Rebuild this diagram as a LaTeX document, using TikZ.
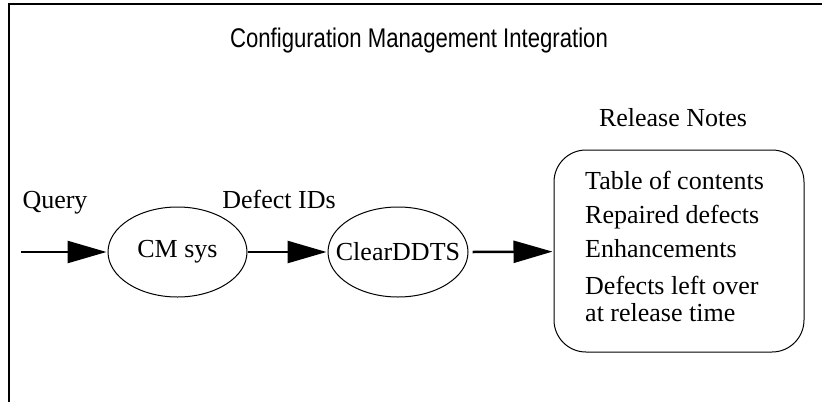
\documentclass[tikz,border=0pt]{standalone}
\usepackage{fontspec}
\setmainfont{Liberation Serif}
\newfontfamily\titlefont[FakeStretch=0.82]{Liberation Sans}
\usetikzlibrary{arrows.meta,shapes.geometric}

\tikzset{
  txt/.style={font=\fontsize{26}{31}\selectfont, inner sep=0pt},
  proc/.style={draw, ellipse, line width=1pt, inner sep=0pt, txt, minimum height=90pt},
  flow/.style={line width=2.5pt, -{Triangle[length=39pt,width=22pt]}, shorten >=1pt}
}

\begin{document}
\begin{tikzpicture}[x=1pt, y=-1pt]
\useasboundingbox (0,0) rectangle (822,402);
\draw[line width=2.2pt] (822,4) -- (9,4) -- (9,402);
\node[inner sep=0pt, font=\titlefont\fontsize{27}{30}\selectfont] (title) at (419,41) {Configuration Management Integration};
\node[txt] (rel) at (673,118) {Release Notes};
\node[txt, anchor=base] (query) at (55,208) {Query};
\node[txt, anchor=base] (ids) at (279,208) {Defect IDs};
\coordinate (in) at (21,252);
\node[proc, minimum width=139pt] (cm) at (177.5,252) {CM sys};
\node[proc, minimum width=140pt, inner xsep=-13.5pt] (dd) at (398,252) {ClearDDTS};
\node[draw, line width=1pt, rounded corners=32pt, minimum width=250pt, minimum height=202pt] (notes) at (679,251) {};
\node[txt, anchor=base west] (t1) at (585,189) {Table of contents};
\node[txt, anchor=base west] (t2) at (585,223) {Repaired defects};
\node[txt, anchor=base west] (t3) at (585,257) {Enhancements};
\node[txt, anchor=base west] (t4) at (585,294) {Defects left over};
\node[txt, anchor=base west] (t5) at (585,321) {at release time};
\draw[flow] (in) -- (cm);
\draw[flow] (cm) -- (dd);
\draw[flow] ([xshift=4pt]dd.east) -- (notes);
\end{tikzpicture}
\end{document}
